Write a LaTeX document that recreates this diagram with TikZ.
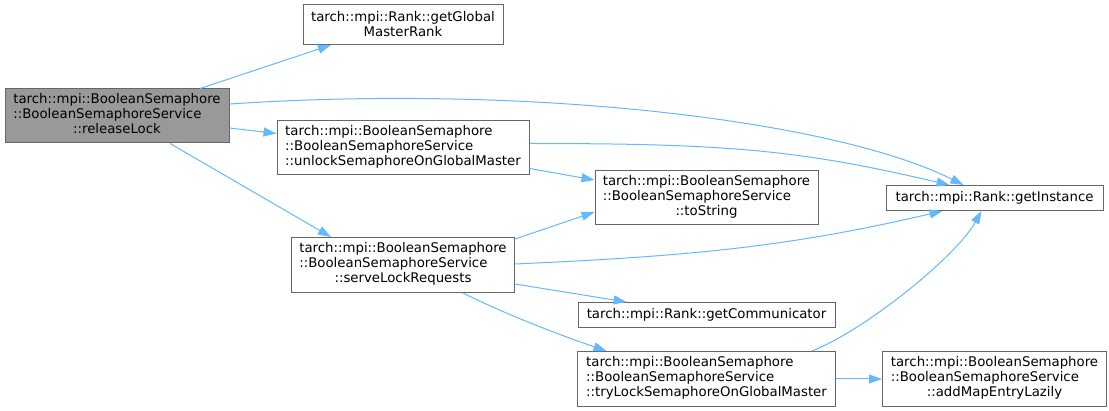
\documentclass[tikz,border=0pt]{standalone}
\usepackage{fontspec}
\setmainfont{DejaVu Sans}
\usepackage{tikz}
\usetikzlibrary{positioning, arrows.meta}

\definecolor{edgeblue}{HTML}{63B8FF}
\definecolor{boxgray}{HTML}{666666}
\definecolor{rootgray}{HTML}{999999}
\newcommand{\fnlines}[3]{\begin{tabular}{@{}l@{}}#1\\#2\\\multicolumn{1}{@{}c@{}}{#3}\end{tabular}}

\begin{document}
\begin{tikzpicture}[
   x=1pt, y=1pt,
   fn/.style={draw=boxgray, line width=1pt, fill=white, inner sep=0pt,
         font=\fontsize{13.3}{15}\selectfont, minimum height=25pt},
   rootfn/.style={fn, fill=rootgray},
   call/.style={-{Triangle[length=13pt, width=9pt]}, draw=edgeblue, line width=1pt},
  ]
  \useasboundingbox (0,0) rectangle (1109,-411);

  \node[rootfn, minimum width=224pt, minimum height=54pt] (root) at (117,-116)
    {\fnlines{tarch::mpi::BooleanSemaphore}{::BooleanSemaphoreService}{::releaseLock}};
  \node[fn, minimum width=252pt, minimum height=54pt, right=47pt of root, yshift=-31.5pt] (unlock)
    {\fnlines{tarch::mpi::BooleanSemaphore}{::BooleanSemaphoreService}{::unlockSemaphoreOnGlobalMaster}};
  \node[fn, minimum width=200pt, minimum height=40pt, align=center, above=75pt of unlock] (gmr)
    {tarch::mpi::Rank::getGlobal\\MasterRank};
  \node[fn, minimum width=223pt, minimum height=55pt, below=62pt of unlock] (serve)
    {\fnlines{tarch::mpi::BooleanSemaphore}{::BooleanSemaphoreService}{::serveLockRequests}};

  \node[fn, minimum width=258pt, minimum height=55pt, right=62pt of serve, yshift=-114pt] (trylock)
    {\fnlines{tarch::mpi::BooleanSemaphore}{::BooleanSemaphoreService}{::tryLockSemaphoreOnGlobalMaster}};
  \node[fn, minimum width=257pt, above=23pt of trylock] (comm) {tarch::mpi::Rank::getCommunicator};
  \node[fn, minimum width=223pt, minimum height=54pt, above=76.5pt of comm] (tostr)
    {\fnlines{tarch::mpi::BooleanSemaphore}{::BooleanSemaphoreService}{::toString}};

  \node[fn, minimum width=217pt, right=67pt of tostr] (inst) {tarch::mpi::Rank::getInstance};
  \node[fn, minimum width=224pt, minimum height=55pt, right=46pt of trylock] (addmap)
    {\fnlines{tarch::mpi::BooleanSemaphore}{::BooleanSemaphoreService}{::addMapEntryLazily}};

  \draw[call] ([xshift=83pt]root.north) -- ([xshift=-72pt]gmr.south);
  \draw[call] ([yshift=12pt]root.east) .. controls +(300,20) and +(-130,65) .. ([xshift=-31pt]inst.north);
  \draw[call] ([yshift=-12pt]root.east) -- ([yshift=14pt]unlock.west);
  \draw[call] ([xshift=53pt]root.south) -- ([xshift=-72pt]serve.north);

  \draw[call] ([yshift=4pt]unlock.east) .. controls +(200,0) and +(-150,35) .. ([xshift=-45pt]inst.north);
  \draw[call] ([yshift=-21pt]unlock.east) -- ([yshift=18pt]tostr.west);

  \draw[call] ([yshift=26pt]serve.east) -- ([yshift=-14pt]tostr.west);
  \draw[call] ([yshift=1pt]serve.east) .. controls +(180,8) and +(-150,-35) .. ([xshift=-52pt]inst.south);
  \draw[call] ([yshift=-19pt]serve.east) -- ([xshift=-80pt]comm.north);
  \draw[call] ([xshift=60pt]serve.south) .. controls +(50,-25) and +(-35,12) .. ([xshift=-100pt]trylock.north);

  \draw[call] ([xshift=105.5pt]trylock.north) .. controls +(55,22) and +(-25,-45) .. ([xshift=-13pt]inst.south);
  \draw[call] (trylock.east) -- (addmap.west);
 \end{tikzpicture}
\end{document}
